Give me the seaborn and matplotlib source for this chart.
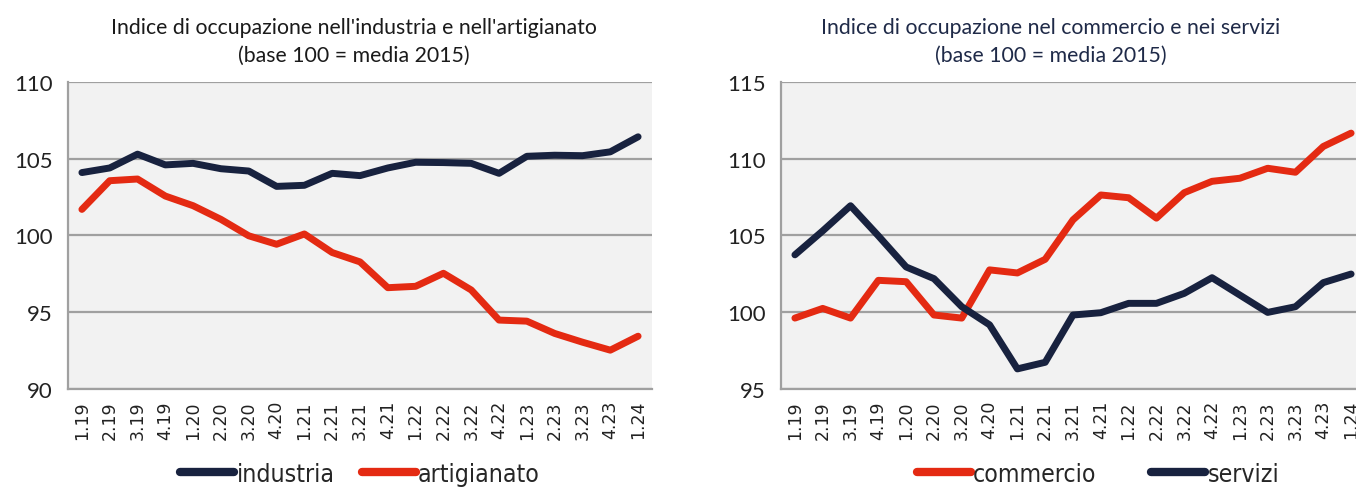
import pandas as pd
import numpy as np
import seaborn as sns
import matplotlib.pyplot as plt
from matplotlib.lines import Line2D
from matplotlib.ticker import FixedLocator

trimestri = ['1.19', '2.19', '3.19', '4.19', '1.20', '2.20', '3.20', '4.20',
             '1.21', '2.21', '3.21', '4.21', '1.22', '2.22', '3.22', '4.22',
             '1.23', '2.23', '3.23', '4.23', '1.24']

industria = [104.1, 104.4, 105.3, 104.6, 104.7, 104.35, 104.2, 103.2, 103.27, 104.05, 103.9,
             104.4, 104.77, 104.75, 104.7, 104.05, 105.16, 105.23, 105.2, 105.45, 106.43]
artigianato = [101.7, 103.57, 103.68, 102.57, 101.94, 101.05, 99.98, 99.43, 100.1, 98.89, 98.28,
               96.6, 96.69, 97.54, 96.45, 94.49, 94.42, 93.62, 93.05, 92.53, 93.44]
commercio = [99.62, 100.25, 99.62, 102.08, 101.99, 99.82, 99.62, 102.76, 102.56, 103.45, 106.02,
             107.64, 107.46, 106.13, 107.79, 108.53, 108.73, 109.38, 109.12, 110.8, 111.67]
servizi = [103.74, 105.3, 106.94, 104.98, 102.95, 102.19, 100.36, 99.18, 96.31, 96.74, 99.82,
           99.97, 100.58, 100.58, 101.23, 102.25, 101.12, 99.99, 100.36, 101.93, 102.49]

NAVY = '#18223f'
RED = '#e42a12'
GRID = '#a0a0a0'

sns.set_style('white')
plt.rcParams['font.family'] = ['Lato', 'DejaVu Sans']

fig = plt.figure(figsize=(13.56, 4.89), dpi=100)
ax1 = fig.add_axes([68 / 1356, 1 - 390 / 489, 584 / 1356, 307 / 489])
ax2 = fig.add_axes([781 / 1356, 1 - 390 / 489, 584 / 1356, 307 / 489])


def long_df(series):
    rows = []
    for name, vals in series.items():
        for i, v in enumerate(vals):
            rows.append({'pos': i, 'valore': v, 'serie': name})
    return pd.DataFrame(rows)


def draw(ax, series, colors, ylim, title, title_color, title_x):
    df = long_df(series)
    sns.lineplot(data=df, x='pos', y='valore', hue='serie', palette=colors,
                 linewidth=5, legend=False, ax=ax, solid_capstyle='round')
    ax.set_facecolor('#f2f2f2')
    ax.set_xlim(-0.5, len(trimestri) - 0.5)
    ax.set_ylim(*ylim)
    ax.set_yticks(np.arange(ylim[0], ylim[1] + 1, 5))
    ax.yaxis.grid(True, color=GRID, linewidth=1.6)
    ax.set_axisbelow(True)
    ax.set_xticks(range(len(trimestri)))
    ax.set_xticklabels(trimestri, rotation=90, family='DejaVu Sans', fontsize=12.5,
                       color='#222222')
    ax.xaxis.set_minor_locator(FixedLocator(np.arange(-0.5, len(trimestri), 1)))
    ax.tick_params(axis='x', which='major', length=0, pad=8)
    ax.tick_params(axis='x', which='minor', length=6, width=1.4, color=GRID, direction='out')
    ax.tick_params(axis='y', length=6, width=1.4, color=GRID, labelsize=16,
                   labelcolor='#222222', pad=5)
    for s in ['top', 'right']:
        ax.spines[s].set_visible(False)
    for s in ['left', 'bottom']:
        ax.spines[s].set_color(GRID)
        ax.spines[s].set_linewidth(1.6)
    ax.set_xlabel('')
    ax.set_ylabel('')
    fig.text(title_x / 1356, 1 - 42 / 489, title, fontsize=15.3, color=title_color,
             ha='center', va='center', linespacing=1.5)


draw(ax1, {'industria': industria, 'artigianato': artigianato},
     {'industria': NAVY, 'artigianato': RED}, (90, 110),
     "Indice di occupazione nell'industria e nell'artigianato\n(base 100 = media 2015)",
     '#1a1a1a', 354)
draw(ax2, {'commercio': commercio, 'servizi': servizi},
     {'commercio': RED, 'servizi': NAVY}, (95, 115),
     "Indice di occupazione nel commercio e nei servizi\n(base 100 = media 2015)",
     '#1f2a48', 1051)


def legend(labels, colors, cx, spacing):
    handles = [Line2D([], [], color=c, linewidth=6, solid_capstyle='round') for c in colors]
    fig.legend(handles, labels, loc='center', bbox_to_anchor=(cx / 1356, 1 - 475 / 489),
               ncol=2, frameon=False, handlelength=2.2, handletextpad=0.08,
               columnspacing=spacing,
               prop={'family': ['Liberation Sans Narrow', 'DejaVu Sans'],
                     'stretch': 'condensed', 'size': 17.8})


legend(['industria', 'artigianato'], [NAVY, RED], 360, 1.1)
legend(['commercio', 'servizi'], [RED, NAVY], 1098, 2.2)

fig.savefig('out.png', dpi=100)
